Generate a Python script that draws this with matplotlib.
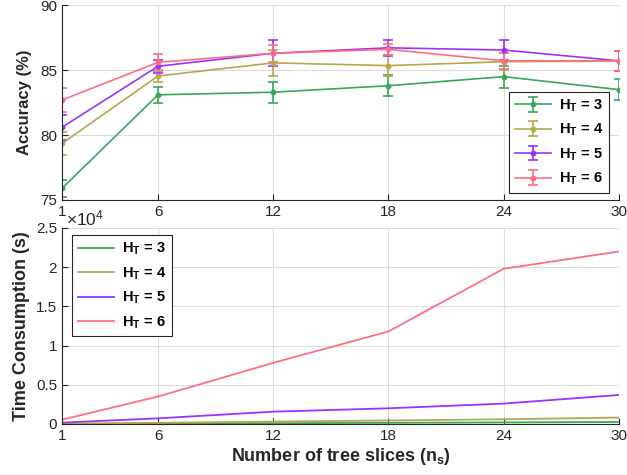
import matplotlib
matplotlib.use("Agg")
import matplotlib.pyplot as plt
from matplotlib.ticker import FuncFormatter

plt.rcParams['font.family'] = ['Liberation Sans', 'DejaVu Sans']
plt.rcParams['mathtext.fontset'] = 'custom'
plt.rcParams['mathtext.rm'] = 'Liberation Sans'
plt.rcParams['mathtext.bf'] = 'Liberation Sans:bold'
plt.rcParams['mathtext.it'] = 'Liberation Sans:italic'

x = [1, 6, 12, 18, 24, 30]
xticks = [1, 6, 12, 18, 24, 30]
labels = ['H$_\\mathbf{T}$ = 3', 'H$_\\mathbf{T}$ = 4', 'H$_\\mathbf{T}$ = 5', 'H$_\\mathbf{T}$ = 6']
colors = ['#3aa65c', '#b5a84a', '#9933ff', '#ff6e82']

acc_h3 = [75.9, 83.1, 83.3, 83.8, 84.5, 83.5]
acc_h4 = [79.35, 84.55, 85.56, 85.35, 85.65, 85.7]
acc_h5 = [80.6, 85.3, 86.3, 86.72, 86.55, 85.72]
acc_h6 = [82.7, 85.6, 86.3, 86.6, 85.72, 85.72]
err_h3 = [0.65, 0.6, 0.8, 0.8, 0.85, 0.8]
err_h4 = [0.87, 0.45, 1.0, 0.8, 0.65, 0.77]
err_h5 = [0.96, 0.5, 1.0, 0.6, 0.75, 0.77]
err_h6 = [0.9, 0.63, 0.65, 0.4, 0.6, 0.75]

time_h3 = [10, 50, 100, 150, 200, 250]
time_h4 = [40, 150, 300, 450, 600, 820]
time_h5 = [170, 720, 1570, 2000, 2600, 3700]
time_h6 = [550, 3500, 7800, 11800, 19800, 22000]

accs = [acc_h3, acc_h4, acc_h5, acc_h6]
errs = [err_h3, err_h4, err_h5, err_h6]
times = [time_h3, time_h4, time_h5, time_h6]

TXT = '#262626'
fig = plt.figure(figsize=(6.27, 4.75), dpi=100)
ax1 = fig.add_axes([0.0989, 0.579, 0.888, 0.410])
ax2 = fig.add_axes([0.0989, 0.1074, 0.888, 0.4126])

def style(ax):
    for s in ['top', 'right']:
        ax.spines[s].set_visible(False)
    for s in ['left', 'bottom']:
        ax.spines[s].set_color(TXT)
        ax.spines[s].set_linewidth(0.8)
    ax.grid(True, color='#dcdcdc', linewidth=0.8)
    ax.set_axisbelow(True)
    ax.tick_params(direction='in', length=4, width=0.8, colors=TXT,
                   labelsize=11, labelcolor=TXT)
    ax.set_xlim(1, 30)
    ax.set_xticks(xticks)

for a, e, c, l in zip(accs, errs, colors, labels):
    ax1.errorbar(x, a, yerr=e, color=c, linewidth=1.2, marker='o', markersize=3.2,
                 capsize=3.5, capthick=1.2, elinewidth=1.2, label=l)
style(ax1)
ax1.set_ylim(75, 90)
ax1.set_yticks([75, 80, 85, 90])
ax1.set_ylabel('Accuracy (%)', fontsize=12, fontweight='bold', color=TXT, labelpad=6)
leg1 = ax1.legend(loc='lower right', prop={'weight': 'bold', 'size': 10.5},
                  fancybox=False, edgecolor=TXT, framealpha=1,
                  handlelength=2.5, borderpad=0.4, labelspacing=0.55,
                  handletextpad=0.5, borderaxespad=0,
                  bbox_to_anchor=(0.982, 0.036))
leg1.get_frame().set_linewidth(0.8)

for t, c, l in zip(times, colors, labels):
    ax2.plot(x, t, color=c, linewidth=1.3, label=l)
style(ax2)
ax2.set_ylim(0, 25000)
ax2.set_yticks([0, 5000, 10000, 15000, 20000, 25000])
ax2.yaxis.set_major_formatter(FuncFormatter(lambda v, p: '%g' % (v / 1e4)))
ax2.text(0.008, 1.0, r'$\times10^{4}$', transform=ax2.transAxes, ha='left', va='bottom',
         fontsize=12.5, color=TXT)
ax2.set_ylabel('Time Consumption (s)', fontsize=13, fontweight='bold', color=TXT)
ax2.set_xlabel('Number of tree slices (n$_\\mathbf{s}$)', fontsize=13, fontweight='bold',
               color=TXT, labelpad=2)
leg2 = ax2.legend(loc='upper left', prop={'weight': 'bold', 'size': 10.5},
                  fancybox=False, edgecolor=TXT, framealpha=1,
                  handlelength=2.5, borderpad=0.4, labelspacing=0.55,
                  handletextpad=0.5, borderaxespad=0,
                  bbox_to_anchor=(0.018, 0.964))
leg2.get_frame().set_linewidth(0.8)

fig.savefig('out.png', dpi=100)
